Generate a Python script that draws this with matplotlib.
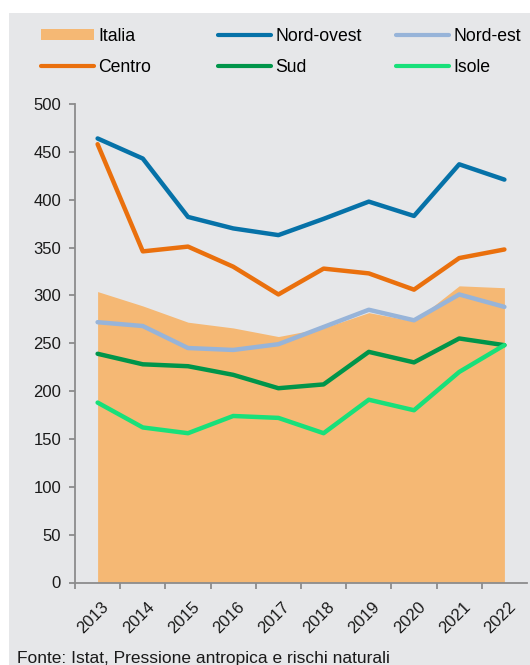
import numpy as np
import matplotlib
matplotlib.use("Agg")
from matplotlib import pyplot as plt
from matplotlib.lines import Line2D
from matplotlib.patches import Patch, Rectangle

# dati
anni = ["2013", "2014", "2015", "2016", "2017", "2018", "2019", "2020", "2021", "2022"]
italia = [304, 289, 272, 266, 257, 266, 282, 273, 310, 308]
nord_ovest = [464, 443, 382, 370, 363, 380, 398, 383, 437, 421]
nord_est = [272, 268, 245, 243, 249, 267, 285, 274, 301, 288]
centro = [458, 346, 351, 330, 301, 328, 323, 306, 339, 348]
sud = [239, 228, 226, 217, 203, 207, 241, 230, 255, 248]
isole = [188, 162, 156, 174, 172, 156, 191, 180, 220, 248]

plt.rcParams['font.family'] = ['Liberation Sans', 'DejaVu Sans']
sfondo = '#e6e7e9'
grigio = '#8c8c8c'

fig = plt.figure(figsize=(5.3, 6.65), dpi=100)
fig.patch.set_facecolor('white')
# pannello grigio
fig.add_artist(Rectangle((9 / 530, 0), 1, 1 - 13 / 665, transform=fig.transFigure,
                         facecolor=sfondo, edgecolor='none', zorder=0))

ax = fig.add_axes([75 / 530, (665 - 582.5) / 665, 452 / 530, 478.5 / 665])
ax.set_facecolor(sfondo)
ax.patch.set_alpha(0)

x = np.arange(len(anni))
ax.fill_between(x, 0, italia, color='#f5b874', linewidth=0, zorder=1)

serie = [
    (nord_ovest, '#0672a8'),
    (nord_est, '#97b4d9'),
    (centro, '#ea700d'),
    (sud, '#00954a'),
    (isole, '#18e07a'),
]
for vals, col in serie:
    ax.plot(x, vals, color=col, lw=3.2, solid_capstyle='round',
            solid_joinstyle='round', zorder=2)

ax.set_xlim(-0.5, 9.5)
ax.set_ylim(0, 500)
ax.set_yticks(np.arange(0, 501, 50))
ax.set_xticks(x + 0.08)
ax.set_xticklabels(anni, rotation=45, ha='right', va='top', rotation_mode='anchor')
ax.set_xticks(np.arange(-0.5, 9, 1), minor=True)
ax.tick_params(axis='x', which='major', length=0, pad=12, labelsize=12, labelcolor='#1a1a1a')
ax.tick_params(axis='x', which='minor', length=4, width=1.3, color=grigio, direction='out')
ax.tick_params(axis='y', length=4, width=1.3, color=grigio, labelsize=12,
               labelcolor='#1a1a1a', pad=6)
for s in ['top', 'right']:
    ax.spines[s].set_visible(False)
for s in ['left', 'bottom']:
    ax.spines[s].set_color(grigio)
    ax.spines[s].set_linewidth(1.3)

# legenda: tre colonne
def lin(c):
    return Line2D([], [], color=c, lw=3, solid_capstyle='round')

colonne = [
    ([Patch(facecolor='#f5b874', edgecolor='none'), lin('#ea700d')], ['Italia', 'Centro'], 41),
    ([lin('#0672a8'), lin('#00954a')], ['Nord-ovest', 'Sud'], 218),
    ([lin('#97b4d9'), lin('#18e07a')], ['Nord-est', 'Isole'], 396),
]
for h, l, px in colonne:
    fig.legend(h, l, loc='center left', bbox_to_anchor=(px / 530, 1 - 52 / 665),
               frameon=False, fontsize=12.7, handlelength=3.0, handletextpad=0.25,
               borderpad=0, borderaxespad=0, labelspacing=0.8, handleheight=0.6)

fig.text(17 / 530, 1 - 651 / 665, 'Fonte: Istat, Pressione antropica e rischi naturali',
         fontsize=12.5, family=['Liberation Sans Narrow', 'Liberation Sans'],
         va='top', ha='left', color='#1a1a1a')

plt.savefig('out.png', dpi=100)
